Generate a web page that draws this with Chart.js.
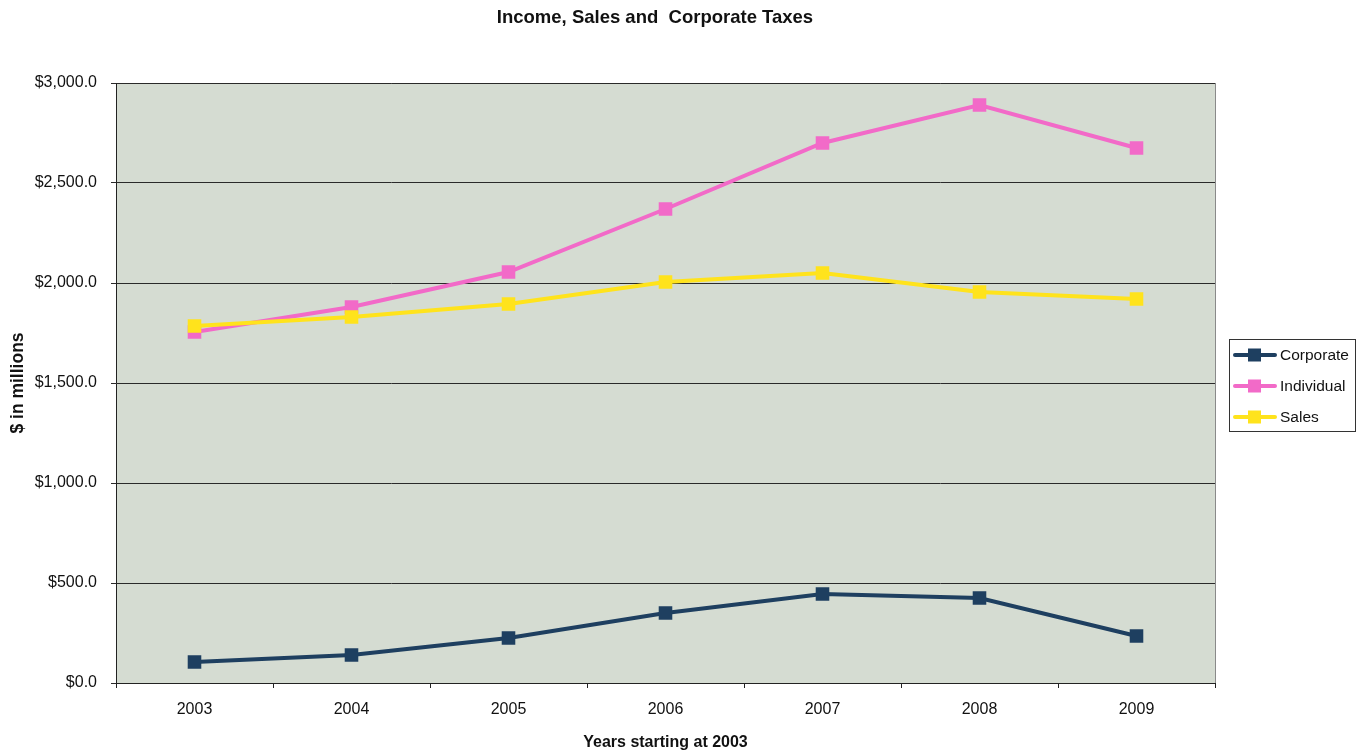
<!DOCTYPE html>
<html><head><meta charset="utf-8">
<script src="https://cdn.jsdelivr.net/npm/chart.js@4.4.1/dist/chart.umd.min.js"></script>
<style>html,body{margin:0;padding:0;background:#fff}#wrap{width:1362px;height:752px}</style>
</head><body><div id="wrap"><canvas id="c" width="1362" height="752"></canvas></div>
<script>
const categories = ['2003','2004','2005','2006','2007','2008','2009'];
const corporate = [105, 140, 225, 350, 445, 425, 235];
const individual = [1755, 1880, 2055, 2370, 2700, 2890, 2675];
const sales = [1785, 1830, 1895, 2005, 2050, 1955, 1920];
const seriesNames = ['Corporate', 'Individual', 'Sales'];
const chartTitle = 'Income, Sales and  Corporate Taxes';
const xTitle = 'Years starting at 2003';
const yTitle = '$ in millions';

const FONT = "'Liberation Sans', Arial, sans-serif";
const colors = ['#1E3F60', '#F26AC8', '#FFE31C'];

function ds(label, data, color, order) {
  return {label, data, order, borderColor: color, backgroundColor: color, borderWidth: 4,
    pointStyle: 'rect', pointRadius: 9.6, pointHoverRadius: 9.6, pointBorderWidth: 0,
    tension: 0, fill: false};
}

const bgPlugin = {
  id: 'bg',
  beforeDraw(chart) {
    const {ctx, chartArea: a} = chart;
    ctx.save();
    ctx.fillStyle = '#D5DCD2';
    ctx.fillRect(a.left, a.top, a.right - a.left, a.bottom - a.top);
    ctx.strokeStyle = '#8a8a8a';
    ctx.lineWidth = 1;
    ctx.strokeRect(a.left + 0.5, a.top + 0.5, a.right - a.left, a.bottom - a.top);
    ctx.restore();
  },
  afterDraw(chart) {
    const ctx = chart.ctx;
    ctx.save();
    ctx.fillStyle = '#111';
    ctx.font = "bold 18.5px " + FONT;
    ctx.textAlign = 'center';
    ctx.textBaseline = 'middle';
    ctx.fillText(chartTitle, 655, 18);
    const bx = 1229, by = 339, bw = 126, bh = 92;
    ctx.fillStyle = '#fff';
    ctx.fillRect(bx, by, bw, bh);
    ctx.strokeStyle = '#333';
    ctx.lineWidth = 1;
    ctx.strokeRect(bx + 0.5, by + 0.5, bw, bh);
    const rows = [355, 386, 417];
    chart.data.datasets.forEach((d, i) => {
      const y = rows[i];
      ctx.strokeStyle = d.borderColor;
      ctx.lineWidth = 4;
      ctx.lineCap = 'round';
      ctx.beginPath(); ctx.moveTo(1235, y); ctx.lineTo(1275, y); ctx.stroke();
      ctx.fillStyle = d.borderColor;
      ctx.fillRect(1248, y - 6.5, 13, 13);
      ctx.fillStyle = '#111';
      ctx.font = "15.5px " + FONT;
      ctx.textAlign = 'left';
      ctx.textBaseline = 'middle';
      ctx.fillText(d.label, 1280, y + 1);
    });
    ctx.restore();
  }
};

new Chart(document.getElementById('c'), {
  type: 'line',
  data: {
    labels: categories,
    datasets: [
      ds(seriesNames[0], corporate, colors[0], 2),
      ds(seriesNames[1], individual, colors[1], 1),
      ds(seriesNames[2], sales, colors[2], 0)
    ]
  },
  options: {
    responsive: false,
    animation: false,
    events: [],
    layout: {padding: {top: 83, right: 147, bottom: 0, left: 0}},
    plugins: {legend: {display: false}, title: {display: false}, tooltip: {enabled: false}},
    scales: {
      x: {
        offset: true,
        afterFit(s) { s.height = 69; },
        grid: {offset: true, drawOnChartArea: false, drawTicks: true, tickLength: 5, color: '#222'},
        border: {color: '#222', width: 1},
        ticks: {color: '#111', font: {family: FONT, size: 16}, padding: 12, maxRotation: 0},
        title: {display: true, text: xTitle, color: '#111', font: {family: FONT, size: 16, weight: 'bold'}, padding: {top: 4, bottom: 0}}
      },
      y: {
        min: 0, max: 3000,
        afterFit(s) { s.width = 116; },
        grid: {color: '#2a2a2a', lineWidth: 1, tickLength: 5, drawTicks: true},
        border: {color: '#222', width: 1},
        ticks: {stepSize: 500, color: '#111', font: {family: FONT, size: 16}, padding: 14,
          callback: v => '$' + Number(v).toLocaleString('en-US', {minimumFractionDigits: 1, maximumFractionDigits: 1})},
        title: {display: true, text: yTitle, color: '#111', font: {family: FONT, size: 17.5, weight: 'bold'}, padding: {top: 8, bottom: 4}}
      }
    }
  },
  plugins: [bgPlugin]
});
</script></body></html>
